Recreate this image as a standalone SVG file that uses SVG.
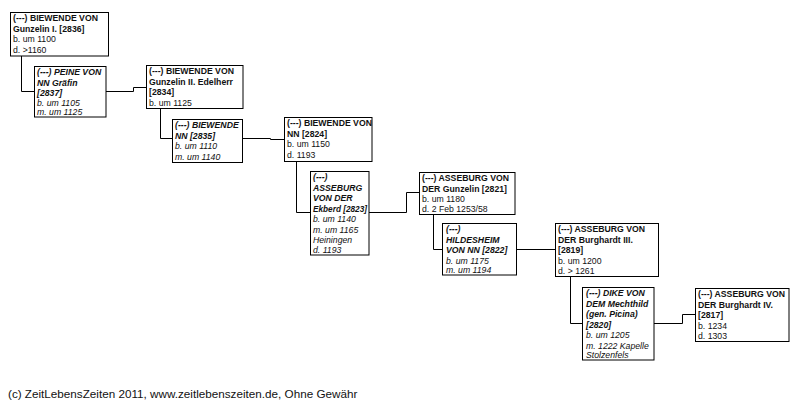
<svg xmlns="http://www.w3.org/2000/svg" width="804" height="410" viewBox="0 0 804 410">
<style>
text{font-family:"Liberation Sans",Arial,sans-serif;font-size:8.7px;fill:#111}
.b{font-weight:bold}
.i{font-style:italic}
.bx{fill:#fff;stroke:#000;stroke-width:1}
.c{fill:none;stroke:#000;stroke-width:1}
.ft{font-size:11.7px}
</style>
<rect width="804" height="410" fill="#fff"/>
<g id="connectors">
<path class="c" d="M21.5 56 V91.5 H34"/>
<path class="c" d="M106 91.5 H133.5 V87.5 H146"/>
<path class="c" d="M160.5 108.5 V138.5 H172.5"/>
<path class="c" d="M242.5 138.5 H270.5 V139.5 H284"/>
<path class="c" d="M296.5 161.5 V212.5 H310"/>
<path class="c" d="M369 212.5 H406.5 V192.5 H419"/>
<path class="c" d="M433.5 214.5 V249.5 H442.5"/>
<path class="c" d="M516.5 249.5 H555.5"/>
<path class="c" d="M570.5 276.5 V323.5 H582.5"/>
<path class="c" d="M654 323.5 H682.5 V314.5 H695"/>
</g>
<g id="n2836">
<rect class="bx" x="10.5" y="12.5" width="98" height="43.5"/>
<text x="13" y="21" class="b">(---) BIEWENDE VON</text>
<text x="13" y="31.5" class="b">Gunzelin I. [2836]</text>
<text x="13" y="42">b. um 1100</text>
<text x="13" y="52.5">d. &gt;1160</text>
</g>
<g id="n2837">
<rect class="bx" x="34.5" y="66.5" width="71.5" height="50.5"/>
<text x="37" y="75" class="b i">(---) PEINE VON</text>
<text x="37" y="85.5" class="b i">NN Gräfin</text>
<text x="37" y="95.5" class="b i">[2837]</text>
<text x="37" y="105.5" class="i">b. um 1105</text>
<text x="37" y="115" class="i">m. um 1125</text>
</g>
<g id="n2834">
<rect class="bx" x="146.5" y="65.5" width="96.5" height="43"/>
<text x="149" y="74" class="b">(---) BIEWENDE VON</text>
<text x="149" y="84.5" class="b">Gunzelin II. Edelherr</text>
<text x="149" y="95" class="b">[2834]</text>
<text x="149" y="105.5">b. um 1125</text>
</g>
<g id="n2835">
<rect class="bx" x="172.5" y="119.5" width="70" height="43"/>
<text x="175" y="128" class="b i">(---) BIEWENDE</text>
<text x="175" y="138.5" class="b i">NN [2835]</text>
<text x="175" y="149" class="i">b. um 1110</text>
<text x="175" y="159.5" class="i">m. um 1140</text>
</g>
<g id="n2824">
<rect class="bx" x="284.5" y="117.5" width="87.5" height="44"/>
<text x="287" y="126" class="b">(---) BIEWENDE VON</text>
<text x="287" y="136.5" class="b">NN [2824]</text>
<text x="287" y="147">b. um 1150</text>
<text x="287" y="157.5">d. 1193</text>
</g>
<g id="n2823">
<rect class="bx" x="310.5" y="171.5" width="58.5" height="83.5"/>
<text x="313" y="180" class="b i">(---)</text>
<text x="313" y="190.5" class="b i">ASSEBURG</text>
<text x="313" y="201" class="b i">VON DER</text>
<text x="313" y="211.5" class="b i" textLength="54" lengthAdjust="spacingAndGlyphs">Ekberd [2823]</text>
<text x="313" y="222" class="i">b. um 1140</text>
<text x="313" y="232.5" class="i">m. um 1165</text>
<text x="313" y="243" class="i">Heiningen</text>
<text x="313" y="252.5" class="i">d. 1193</text>
</g>
<g id="n2821">
<rect class="bx" x="419.5" y="172.5" width="95.5" height="42"/>
<text x="422" y="181" class="b">(---) ASSEBURG VON</text>
<text x="422" y="191.5" class="b">DER Gunzelin [2821]</text>
<text x="422" y="202">b. um 1180</text>
<text x="422" y="211.5">d. 2 Feb 1253/58</text>
</g>
<g id="n2822">
<rect class="bx" x="442.5" y="223.5" width="74" height="51.5"/>
<text x="446" y="232" class="b i">(---)</text>
<text x="446" y="242.5" class="b i">HILDESHEIM</text>
<text x="446" y="253" class="b i">VON NN [2822]</text>
<text x="446" y="263.5" class="i">b. um 1175</text>
<text x="446" y="273" class="i">m. um 1194</text>
</g>
<g id="n2819">
<rect class="bx" x="555.5" y="223.5" width="103" height="53"/>
<text x="558" y="232" class="b">(---) ASSEBURG VON</text>
<text x="558" y="242.5" class="b">DER Burghardt III.</text>
<text x="558" y="253" class="b">[2819]</text>
<text x="558" y="263.5">b. um 1200</text>
<text x="558" y="274">d. &gt; 1261</text>
</g>
<g id="n2820">
<rect class="bx" x="582.5" y="287.5" width="71.5" height="72.5"/>
<text x="586" y="296" class="b i">(---) DIKE VON</text>
<text x="586" y="306.5" class="b i">DEM Mechthild</text>
<text x="586" y="317" class="b i">(gen. Picina)</text>
<text x="586" y="327.5" class="b i">[2820]</text>
<text x="586" y="338" class="i">b. um 1205</text>
<text x="586" y="348.5" class="i">m. 1222 Kapelle</text>
<text x="586" y="358" class="i">Stolzenfels</text>
</g>
<g id="n2817">
<rect class="bx" x="695.5" y="288.5" width="93.5" height="53"/>
<text x="698" y="297" class="b">(---) ASSEBURG VON</text>
<text x="698" y="307.5" class="b">DER Burghardt IV.</text>
<text x="698" y="318" class="b">[2817]</text>
<text x="698" y="328.5">b. 1234</text>
<text x="698" y="339">d. 1303</text>
</g>
<text x="8" y="398" class="ft">(c) ZeitLebensZeiten 2011, www.zeitlebenszeiten.de, Ohne Gewähr</text>
</svg>
